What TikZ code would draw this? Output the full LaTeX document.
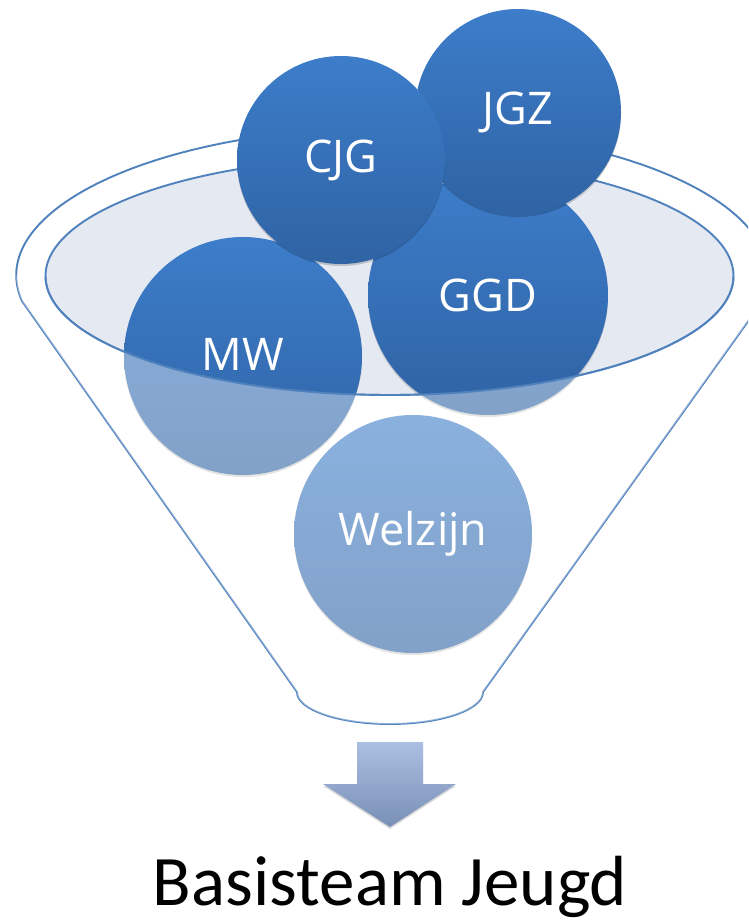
\documentclass[tikz,border=0pt]{standalone}
\usepackage{fontspec}
\setmainfont{Carlito}
\newfontfamily\lblfont{Open Sans}
\usetikzlibrary{shadows}
\definecolor{rim}{HTML}{4F81BD}
\definecolor{ellfill}{HTML}{E4E9F2}
\definecolor{ctop}{HTML}{3D7DCA}
\definecolor{cbot}{HTML}{2F63A4}
\definecolor{arrtop}{HTML}{AABFE1}
\definecolor{arrbot}{HTML}{7A8FB5}
\begin{document}
\begin{tikzpicture}[x=1pt,y=-1pt,
  ball/.style={circle, inner sep=0pt, top color=ctop, bottom color=cbot,
    text=white, font=\lblfont\fontsize{45}{54}\selectfont,
    drop shadow={shadow xshift=0pt, shadow yshift=-2pt, opacity=0.18, fill=black}},
  rimline/.style={draw=rim, line width=1.9pt}]
\useasboundingbox (0,0) rectangle (748,923);
\clip (0,0) rectangle (748,923);
% funnel outline
\draw[rimline, fill=white] (483,692) arc[start angle=0, end angle=180, x radius=93, y radius=32]
  -- (22,301) arc[start angle=170, end angle=370, x radius=376, y radius=148] -- cycle;
% inner ellipse
\draw[rimline, fill=ellfill] (389.5,276) ellipse[x radius=344, y radius=119];
% circles
\node[ball, minimum size=238pt] (mw) at (243,356) {\raisebox{3pt}{MW}};
\node[ball, minimum size=240pt] (ggd) at (488,295) {GGD};
\node[ball, minimum size=238pt] (welzijn) at (413,534) {Welzijn};
\node[ball, minimum size=206pt] (jgz) at (518,112) {JGZ};
\node[ball, minimum size=208pt] (cjg) at (341,160) {\raisebox{1pt}{CJG}};
% fading overlay for lower part of funnel
\begin{scope}
  \clip (0,276) rectangle (748,923);
  \fill[white, fill opacity=0.4, even odd rule] (483,692) arc[start angle=0, end angle=180, x radius=93, y radius=32]
    -- (22,301) arc[start angle=170, end angle=370, x radius=376, y radius=148] -- cycle
    (389.5,276) ellipse[x radius=344, y radius=119];
\end{scope}
\draw[rimline] (733.5,276) arc[start angle=0, end angle=180, x radius=344, y radius=119];
% arrow
\shade[top color=arrtop, bottom color=arrbot,
  drop shadow={shadow xshift=0pt, shadow yshift=-2pt, opacity=0.15, fill=black}]
  (357,742) -- (423,742) -- (423,784) -- (456,784) -- (390,827) -- (323,784) -- (357,784) -- cycle;
\node[font=\fontsize{71}{84}\selectfont, anchor=base, inner sep=0pt] (title) at (390,905) {Basisteam Jeugd};
\end{tikzpicture}
\end{document}
